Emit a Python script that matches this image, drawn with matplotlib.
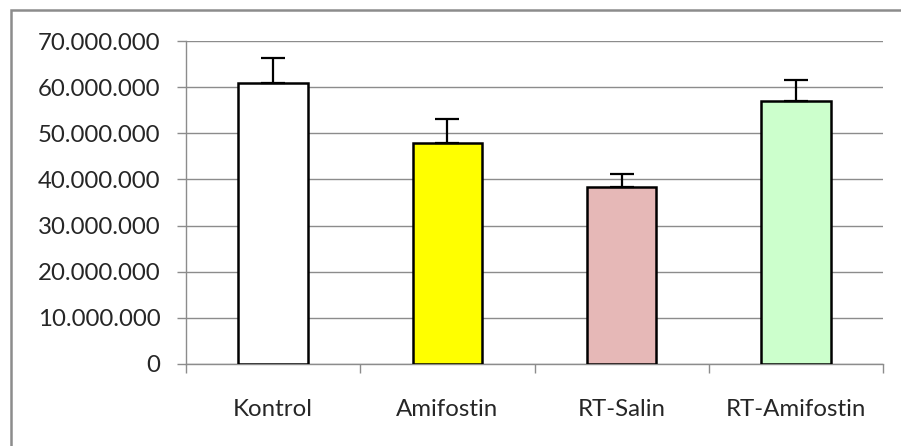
import matplotlib.pyplot as plt
from matplotlib.ticker import FuncFormatter, FixedLocator
from matplotlib.patches import Rectangle

# Veriler
categories = ['Kontrol', 'Amifostin', 'RT-Salin', 'RT-Amifostin']
means = [60900000, 47800000, 38400000, 57100000]
errors = [5500000, 5300000, 2700000, 4500000]
colors = ['#FFFFFF', '#FFFF00', '#E6B8B7', '#CCFFCC']

plt.rcParams['font.family'] = ['Lato', 'DejaVu Sans']

fig = plt.figure(figsize=(9.01, 4.46), dpi=100)
ax = fig.add_axes([186 / 901, 82 / 446, 697 / 901, 323 / 446])

x = range(len(categories))
ax.bar(x, means, width=0.4, color=colors, edgecolor='black', linewidth=1.8, zorder=3)
ax.errorbar(x, means, yerr=[[0] * len(errors), errors], fmt='none', ecolor='black',
            elinewidth=1.6, capsize=8.5, capthick=1.6, zorder=4)

ax.set_xlim(-0.5, len(categories) - 0.5)
ax.set_ylim(0, 70000000)
ax.set_yticks(range(0, 70000001, 10000000))
ax.yaxis.set_major_formatter(FuncFormatter(lambda v, p: f'{v:,.0f}'.replace(',', '.')))
ax.set_xticks(list(x))
ax.set_xticklabels(categories)
ax.xaxis.set_minor_locator(FixedLocator([i - 0.5 for i in range(len(categories) + 1)]))

ax.grid(axis='y', color='#8c8c8c', linewidth=1.0, zorder=0)
for s in ['top', 'right']:
    ax.spines[s].set_visible(False)
for s in ['left', 'bottom']:
    ax.spines[s].set_color('#8c8c8c')
    ax.spines[s].set_linewidth(1.0)

ax.tick_params(axis='y', length=6.5, width=1, color='#8c8c8c', pad=12, labelsize=17.3, labelcolor='#262626')
ax.tick_params(axis='x', which='major', length=0, pad=25, labelsize=17.3, labelcolor='#262626')
ax.tick_params(axis='x', which='minor', length=6.5, width=1, color='#8c8c8c')

# Dış çerçeve
fig.patches.append(Rectangle((11 / 901, -0.05), 1.0, 0.05 + 436 / 446, transform=fig.transFigure,
                             fill=False, edgecolor='#8c8c8c', linewidth=1.8))

plt.savefig('out.png', dpi=100)
